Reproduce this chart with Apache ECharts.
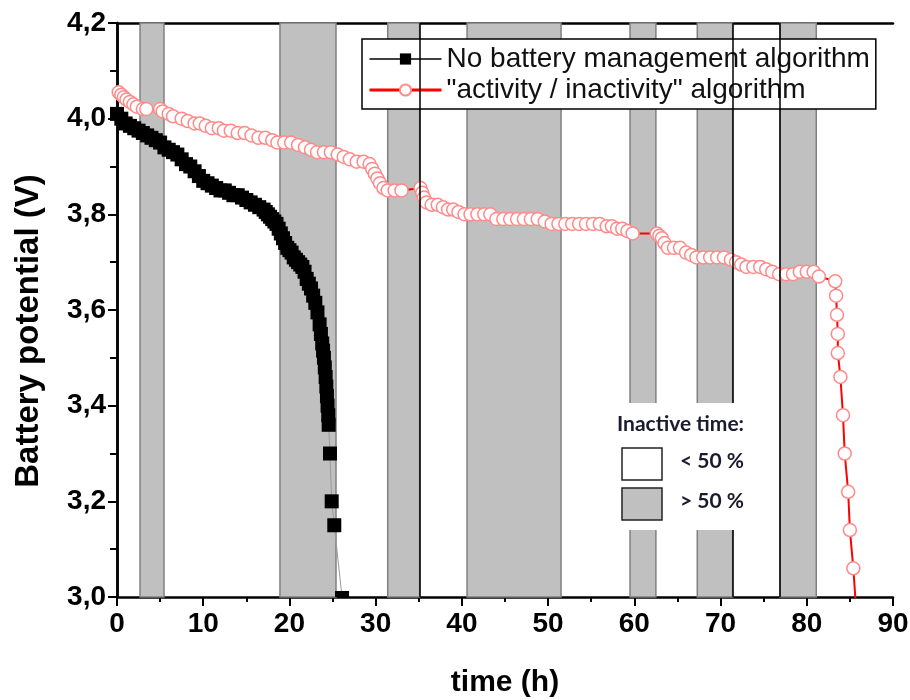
<!DOCTYPE html>
<html>
<head>
<meta charset="utf-8">
<script src="https://cdn.jsdelivr.net/npm/echarts@6/dist/echarts.min.js"></script>
<style>html,body{margin:0;padding:0;background:#fff}#c{width:910px;height:700px}</style>
</head>
<body>
<div id="c"></div>
<script>
// ---- data ----
const seriesNames = ['No battery management algorithm', '"activity / inactivity" algorithm'];
const blackTime = [0,0.5,1,1.5,2,2.5,3,3.5,4,4.5,5,5.5,6,6.5,7,7.5,8,8.5,9,9.5,
  10,10.5,11,11.5,12,12.5,13,13.5,14,14.5,15,15.5,16,16.5,17,17.25,17.5,17.75,18,18.25,
  18.5,18.75,19,19.25,19.5,19.75,20,20.25,20.5,20.75,21,21.25,21.5,21.75,22,22.25,22.5,22.75,23,23.25,
  23.5,23.65,23.8,23.9,24.0,24.1,24.2,24.28,24.35,24.42,24.5,24.55,24.7,24.9,25.2,26.1];
const blackVolt = [4.01,4.00,3.99,3.985,3.98,3.975,3.97,3.965,3.96,3.955,3.95,3.94,3.935,3.93,3.925,3.915,3.905,3.90,3.89,3.88,
  3.87,3.865,3.86,3.855,3.85,3.85,3.845,3.84,3.84,3.835,3.83,3.825,3.82,3.815,3.81,3.805,3.80,3.795,3.79,3.785,
  3.78,3.77,3.76,3.75,3.74,3.73,3.725,3.72,3.71,3.705,3.70,3.695,3.69,3.68,3.665,3.655,3.645,3.63,3.615,3.595,
  3.57,3.55,3.53,3.515,3.50,3.48,3.46,3.44,3.42,3.40,3.38,3.36,3.30,3.20,3.15,3.00];
const redTime = [0.2,0.5,0.8,1.1,1.5,1.9,2.3,3.0,3.4,5.0,5.3,6.0,6.5,7.5,8.2,9.0,9.6,10.3,11.0,11.8,
  12.4,13.2,14.0,14.8,15.6,16.4,17.2,18.0,18.6,19.4,20.2,21.0,21.8,22.5,23.2,24.0,24.8,25.6,26.3,27.0,
  27.8,28.6,29.3,29.6,29.9,30.2,30.5,30.9,31.4,32.2,33.0,35.2,35.4,35.6,35.9,36.5,37.2,37.8,38.4,39.0,
  39.6,40.3,41.0,41.8,42.6,43.3,44.0,44.8,45.6,46.4,47.2,48.0,48.8,49.6,50.4,51.2,52.0,52.8,53.6,54.4,
  55.2,56.0,56.8,57.4,58.0,58.6,59.2,59.8,62.6,62.9,63.2,63.5,63.9,64.6,65.3,66.0,66.6,67.2,68.0,68.8,
  69.6,70.4,71.2,71.8,72.4,73.0,73.8,74.6,75.3,76.0,76.8,77.6,78.4,79.2,80.0,80.8,81.4,83.3,83.4,83.5,
  83.6,83.6,83.9,84.2,84.4,84.8,85.0,85.4,85.7];
const redVolt = [4.055,4.05,4.045,4.04,4.035,4.03,4.025,4.02,4.02,4.02,4.015,4.01,4.005,4.0,3.995,3.99,3.99,3.985,3.98,3.98,
  3.975,3.975,3.97,3.97,3.965,3.96,3.96,3.955,3.95,3.95,3.95,3.945,3.94,3.935,3.93,3.93,3.93,3.925,3.92,3.915,
  3.91,3.91,3.905,3.895,3.885,3.875,3.865,3.855,3.85,3.85,3.85,3.855,3.845,3.835,3.825,3.82,3.82,3.815,3.81,3.81,
  3.805,3.80,3.80,3.80,3.80,3.80,3.79,3.79,3.79,3.79,3.79,3.79,3.79,3.785,3.78,3.78,3.78,3.78,3.78,3.78,
  3.78,3.78,3.775,3.775,3.77,3.77,3.765,3.76,3.76,3.755,3.75,3.74,3.73,3.73,3.73,3.72,3.715,3.71,3.71,3.71,
  3.71,3.71,3.705,3.70,3.695,3.69,3.69,3.69,3.685,3.68,3.675,3.675,3.675,3.68,3.68,3.68,3.67,3.66,3.63,3.59,
  3.55,3.51,3.46,3.38,3.30,3.22,3.14,3.06,2.98];
const bandStart = [2.67, 18.9, 31.4, 40.6, 59.5, 67.3, 76.9];
const bandEnd   = [5.45, 25.4, 35.1, 51.5, 62.5, 71.4, 81.1];
const darkEdges = [35.1, 71.4, 76.9];
const xTicks = {min: 0, max: 90, step: 10};
const yTicks = {min: 3.0, max: 4.2, step: 0.2};
const inactiveTitle = 'Inactive time:';
const inactiveLabels = ['< 50 %', '> 50 %'];

// ---- build ----
const blackData = blackTime.map((t, i) => {
  const d = {value: [t, blackVolt[i]]};
  if (i === blackTime.length - 1) { d.symbolSize = [14, 6]; d.symbolOffset = [0, -3]; }
  return d;
});
const redData = redTime.map((t, i) => {
  const d = {value: [t, redVolt[i]]};
  if (i === redTime.length - 1) d.symbol = 'none';
  return d;
});
const areas = bandStart.map((s, i) => [{xAxis: s}, {xAxis: bandEnd[i]}]);

const FONT = '"Liberation Sans", Arial, sans-serif';
const TICKFONT = '"Liberation Sans Narrow", "Arial Narrow", "Liberation Sans", sans-serif';
const LEG2FONT = 'bold 21px Lato, "Open Sans", sans-serif';
const chart = echarts.init(document.getElementById('c'));
chart.setOption({
  animation: false,
  backgroundColor: '#fff',
  grid: {left: 117, right: 17, top: 23, bottom: 103, containLabel: false, outerBoundsMode: 'none'},
  legend: {
    left: 362, top: 39, orient: 'vertical',
    backgroundColor: '#fff', borderColor: '#000', borderWidth: 1.5, borderRadius: 0,
    padding: [6, 6, 5, 6], itemWidth: 72, itemHeight: 14, itemGap: 3,
    textStyle: {fontSize: 28, fontFamily: FONT, color: '#111'},
    data: [
      {name: seriesNames[0], lineStyle: {color: '#000', width: 1.5}},
      {name: seriesNames[1], lineStyle: {color: '#ff0000', width: 3}}
    ]
  },
  xAxis: [{
    type: 'value', min: xTicks.min, max: xTicks.max, interval: xTicks.step,
    name: 'time (h)', nameLocation: 'middle', nameGap: 71,
    nameTextStyle: {fontSize: 30, fontWeight: 'bold', fontFamily: FONT, color: '#000'},
    axisLine: {lineStyle: {color: '#000', width: 2.5}},
    axisTick: {inside: false, length: 9, lineStyle: {color: '#000', width: 2}},
    minorTick: {show: true, splitNumber: 2, length: 5, lineStyle: {color: '#000', width: 2}},
    splitLine: {show: false},
    axisLabel: {fontSize: 28, fontWeight: 'bold', fontFamily: TICKFONT, color: '#000', margin: 13}
  }, {
    type: 'value', position: 'top', min: xTicks.min, max: xTicks.max,
    axisLine: {show: true, lineStyle: {color: '#000', width: 2.5}},
    axisTick: {show: false}, axisLabel: {show: false}, splitLine: {show: false}
  }],
  yAxis: [{
    type: 'value', min: yTicks.min, max: yTicks.max, interval: yTicks.step,
    name: 'Battery potential (V)', nameLocation: 'middle', nameGap: 72,
    nameTextStyle: {fontSize: 33, fontWeight: 'bold', fontFamily: FONT, color: '#000', padding: [0, 42, 0, 0]},
    axisLine: {show: true, lineStyle: {color: '#000', width: 2.5}},
    axisTick: {show: true, inside: false, length: 9, lineStyle: {color: '#000', width: 2}},
    minorTick: {show: true, splitNumber: 2, length: 5, lineStyle: {color: '#000', width: 2}},
    splitLine: {show: false},
    axisLabel: {fontSize: 28, fontWeight: 'bold', fontFamily: TICKFONT, color: '#000', margin: 11,
      formatter: v => v.toFixed(1).replace('.', ',')}
  }, {
    type: 'value', position: 'right', min: 3.0, max: 4.2, interval: 0.1,
    axisLine: {show: true, lineStyle: {color: '#000', width: 2.5}},
    axisTick: {show: true, inside: true, length: 7, lineStyle: {color: '#000', width: 2}},
    axisLabel: {show: false}, splitLine: {show: false}
  }],
  series: [{
    name: 'bands', type: 'line', data: [], z: 1, silent: true,
    markArea: {silent: true, itemStyle: {color: '#c0c0c0', borderColor: '#808080', borderWidth: 1.5}, data: areas},
    markLine: {silent: true, symbol: 'none', label: {show: false},
      lineStyle: {color: '#000', width: 1.5, type: 'solid'},
      data: darkEdges.map(x => ({xAxis: x}))}
  }, {
    name: seriesNames[0], type: 'line', data: blackData, z: 3,
    symbol: 'rect', symbolSize: 14,
    itemStyle: {color: '#000'},
    lineStyle: {color: '#999', width: 1}
  }, {
    name: seriesNames[1], type: 'line', data: redData, z: 4,
    symbol: 'circle', symbolSize: 13,
    itemStyle: {color: '#fff', borderColor: '#ff8a8a', borderWidth: 1.5},
    lineStyle: {color: '#ff0000', width: 2}
  }],
  graphic: [
    {type: 'rect', z: 100, shape: {x: 606, y: 403, width: 166, height: 127}, style: {fill: '#fff'}},
    {type: 'text', z: 101, left: 617, top: 414, style: {text: inactiveTitle, font: LEG2FONT, fill: '#1a1a2e'}},
    {type: 'rect', z: 101, shape: {x: 622, y: 448, width: 40, height: 32}, style: {fill: '#fff', stroke: '#222', lineWidth: 1.5}},
    {type: 'rect', z: 101, shape: {x: 622, y: 488, width: 40, height: 32}, style: {fill: '#c0c0c0', stroke: '#222', lineWidth: 1.5}},
    {type: 'text', z: 101, left: 680, top: 451, style: {text: inactiveLabels[0], font: LEG2FONT, fill: '#1a1a2e'}},
    {type: 'text', z: 101, left: 680, top: 491, style: {text: inactiveLabels[1], font: LEG2FONT, fill: '#1a1a2e'}}
  ]
});
</script>
</body>
</html>
